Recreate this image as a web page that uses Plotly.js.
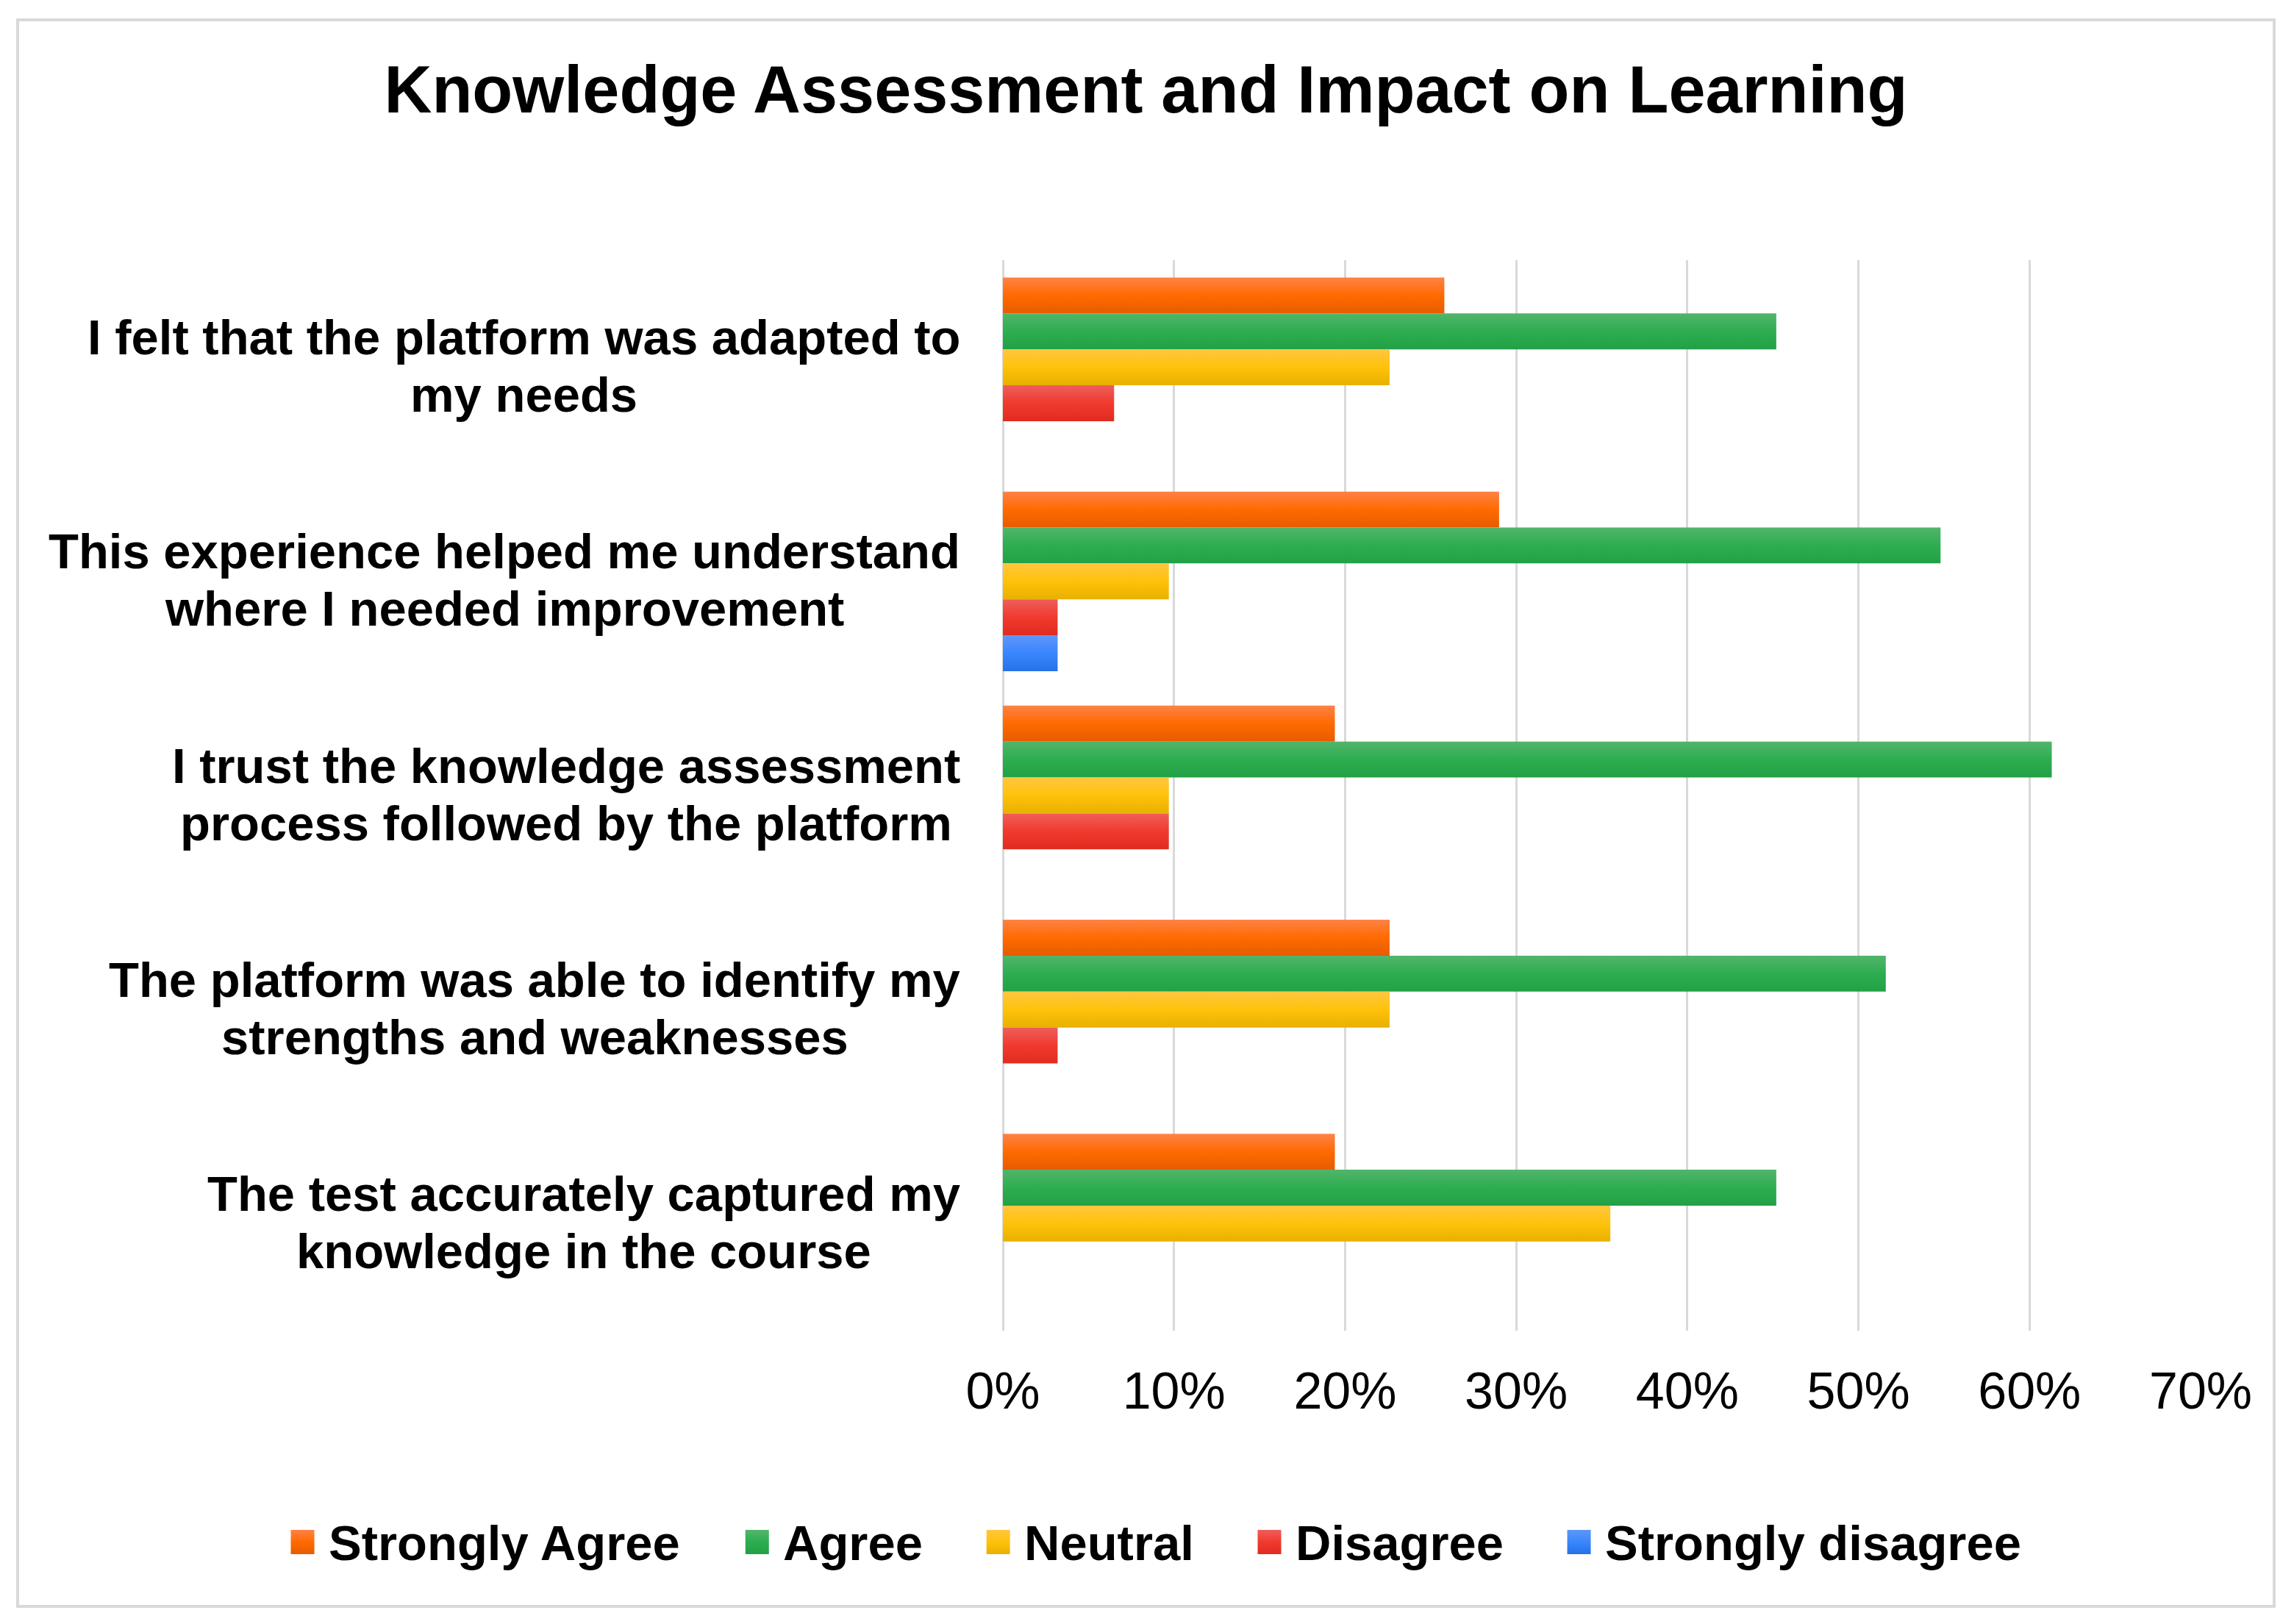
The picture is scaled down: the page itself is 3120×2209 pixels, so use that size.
<!DOCTYPE html>
<html>
<head>
<meta charset="utf-8">
<script src="https://cdn.plot.ly/plotly-3.0.1.min.js"></script>
<style>
  html, body { margin: 0; padding: 0; background: #ffffff; }
  #chart { width: 3120px; height: 2209px; }
</style>
</head>
<body>
<div id="chart"></div>
<script>
// ---------- DATA ----------
const categories = [
  "I felt that the platform was adapted to my needs",
  "This experience helped me understand where I needed improvement",
  "I trust the knowledge assessment process followed by the platform",
  "The platform was able to identify my strengths and weaknesses",
  "The test accurately captured my knowledge in the course"
];
const tickLabelLines = [
  ["I felt that the platform was adapted to", "my needs"],
  ["This experience helped me understand", "where I needed improvement"],
  ["I trust the knowledge assessment", "process followed by the platform"],
  ["The platform was able to identify my", "strengths and weaknesses"],
  ["The test accurately captured my", "knowledge in the course"]
];
const seriesNames = ["Strongly Agree", "Agree", "Neutral", "Disagree", "Strongly disagree"];
const stronglyAgree    = [0.258, 0.290, 0.194, 0.226, 0.194];
const agree            = [0.452, 0.548, 0.613, 0.516, 0.452];
const neutral          = [0.226, 0.097, 0.097, 0.226, 0.355];
const disagree         = [0.065, 0.032, 0.097, 0.032, 0];
const stronglyDisagree = [0,     0.032, 0,     0,     0];
const xTickValues = [0, 0.1, 0.2, 0.3, 0.4, 0.5, 0.6, 0.7];
const xTickLabels = ["0%", "10%", "20%", "30%", "40%", "50%", "60%", "70%"];

// ---------- STYLE ----------
const seriesValues = [stronglyAgree, agree, neutral, disagree, stronglyDisagree];
const colors = ["#FF6D00", "#2DAD50", "#FFC20A", "#EF3A2E", "#3A86FF"];
const gradStops = [
  ["#FF8246", "#FF6A00", "#E65C00"],
  ["#52B56B", "#2DAD50", "#22A045"],
  ["#FFC63F", "#FFC20A", "#E8B000"],
  ["#EF5E5B", "#F03A2E", "#E12B20"],
  ["#5E97F7", "#3A86FF", "#2571E6"]
];
const FONT = "Liberation Sans, Arial, sans-serif";

const W = 3120, H = 2209;
const M = { l: 1364, r: 127, t: 354, b: 399 };
const PW = W - M.l - M.r, PH = H - M.t - M.b;
const px2x = px => (px - M.l) / PW;
const py2y = py => (H - M.b - py) / PH;

const traces = seriesNames.map((name, i) => ({
  type: "bar",
  orientation: "h",
  name: name,
  y: categories,
  x: seriesValues[i],
  marker: { color: colors[i], line: { width: 0 } },
  showlegend: false,
  hovertemplate: "%{y}<br>" + name + ": %{x:.1%}<extra></extra>"
}));

const canvas = document.createElement("canvas");
const ctx = canvas.getContext("2d");

// Category labels: lines centred on the widest line, block right-aligned
const labelFontSize = 67;
ctx.font = "bold " + labelFontSize + "px 'Liberation Sans'";
const labelRight = M.l - 58;
const annotations = [];
categories.forEach((c, i) => {
  const lines = tickLabelLines[i];
  const wmax = Math.max(...lines.map(t => ctx.measureText(t).width));
  const centerPx = labelRight - wmax / 2;
  const shifts = [41, -37];
  lines.forEach((t, j) => {
    annotations.push({
      xref: "paper", yref: "y",
      x: px2x(centerPx), y: c,
      xanchor: "center", yanchor: "middle",
      yshift: shifts[j],
      showarrow: false,
      text: t,
      font: { family: FONT, size: labelFontSize, color: "#000000", weight: 700 }
    });
  });
});

// Legend built as shapes + annotations
const legendFontSize = 67;
ctx.font = "bold " + legendFontSize + "px 'Liberation Sans'";
const mk = 32, mkGap = 19, itemGap = 87;
const widths = seriesNames.map(n => ctx.measureText(n).width);
let total = 0;
widths.forEach((w, i) => { total += mk + mkGap + w + (i < widths.length - 1 ? itemGap : 0); });
let cx = 1572 - total / 2;
const shapes = [];
const legY0 = 2081, legY1 = 2114, legYc = 2098;
seriesNames.forEach((n, i) => {
  shapes.push({
    type: "rect", xref: "paper", yref: "paper",
    x0: px2x(cx), x1: px2x(cx + mk), y0: py2y(legY1), y1: py2y(legY0),
    fillcolor: colors[i], line: { width: 0 }
  });
  annotations.push({
    xref: "paper", yref: "paper",
    x: px2x(cx + mk + mkGap - 2), y: py2y(legYc),
    xanchor: "left", yanchor: "middle",
    showarrow: false, text: n,
    font: { family: FONT, size: legendFontSize, color: "#000000", weight: 700 }
  });
  cx += mk + mkGap + widths[i] + itemGap;
});

// Outer border
shapes.push({
  type: "rect", xref: "paper", yref: "paper",
  x0: px2x(24), x1: px2x(3093), y0: py2y(2185), y1: py2y(27),
  line: { color: "#D9D9D9", width: 4 }, fillcolor: "rgba(0,0,0,0)", layer: "below"
});

const layout = {
  width: W, height: H,
  margin: M,
  paper_bgcolor: "#ffffff",
  plot_bgcolor: "#ffffff",
  title: {
    text: "<b>Knowledge Assessment and Impact on Learning</b>",
    font: { family: FONT, size: 90, color: "#000000" },
    xref: "container", x: 0.4995,
    yref: "container", y: 1 - 121 / H, yanchor: "middle"
  },
  barmode: "group",
  bargap: 0.161,
  bargroupgap: 0,
  xaxis: {
    range: [0, 0.7],
    tickvals: xTickValues,
    ticktext: xTickLabels,
    showgrid: true, gridcolor: "#D9D9D9", gridwidth: 3,
    zeroline: true, zerolinecolor: "#D9D9D9", zerolinewidth: 3,
    showline: false, ticks: "",
    ticklabelstandoff: 35,
    tickfont: { family: FONT, size: 70, color: "#000000" },
    fixedrange: true
  },
  yaxis: {
    type: "category",
    categoryorder: "array",
    categoryarray: categories,
    range: [4.5, -0.5],
    showticklabels: false,
    showgrid: false, zeroline: false, showline: false, ticks: "",
    fixedrange: true
  },
  showlegend: false,
  annotations: annotations,
  shapes: shapes
};

function hexToRgb(h) {
  const n = parseInt(h.slice(1), 16);
  return "rgb(" + ((n >> 16) & 255) + ", " + ((n >> 8) & 255) + ", " + (n & 255) + ")";
}

function applyGradients(gd) {
  try {
    const svg = gd.querySelector("svg.main-svg");
    const ns = "http://www.w3.org/2000/svg";
    let defs = svg.querySelector("defs");
    if (!defs) { defs = document.createElementNS(ns, "defs"); svg.insertBefore(defs, svg.firstChild); }
    const rgbMap = {};
    colors.forEach((c, i) => {
      const g = document.createElementNS(ns, "linearGradient");
      g.setAttribute("id", "barGrad" + i);
      g.setAttribute("x1", "0"); g.setAttribute("y1", "0");
      g.setAttribute("x2", "0"); g.setAttribute("y2", "1");
      [[0, 0], [0.5, 1], [1, 2]].forEach(([off, k]) => {
        const s = document.createElementNS(ns, "stop");
        s.setAttribute("offset", off);
        s.setAttribute("stop-color", gradStops[i][k]);
        g.appendChild(s);
      });
      defs.appendChild(g);
      rgbMap[hexToRgb(c)] = "url(#barGrad" + i + ")";
    });
    gd.querySelectorAll("path").forEach(p => {
      const f = (p.style.fill || "").replace(/\s+/g, " ");
      const key = Object.keys(rgbMap).find(k => k.replace(/\s+/g, " ") === f);
      if (key) p.style.fill = rgbMap[key];
    });
  } catch (e) { /* keep solid colours */ }
}

Plotly.newPlot("chart", traces, layout, { displayModeBar: false, staticPlot: true })
  .then(gd => applyGradients(gd));
</script>
</body>
</html>
